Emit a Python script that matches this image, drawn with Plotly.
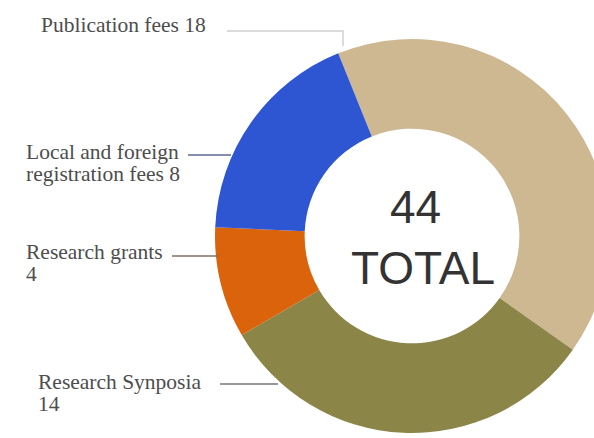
import plotly.graph_objects as go

# Data (clockwise from the top-left)
labels = ["Publication fees", "Research Symposia", "Research grants", "Local and foreign registration fees"]
values = [18, 14, 4, 8]
colors = ["#CDB892", "#8B8548", "#DA630B", "#2F56D2"]
total = sum(values)

# the donut runs off the right edge, so the figure is wider than the window
W, H = 620, 438


def px(x):
    return x / W


def py(y):
    return 1 - y / H


cx, cy, r = 412, 236, 197

fig = go.Figure()
fig.add_trace(go.Pie(
    labels=labels, values=values, hole=0.545, sort=False,
    direction="clockwise", rotation=-22,
    marker=dict(colors=colors, line=dict(width=0)),
    textinfo="none", hoverinfo="label+value", showlegend=False,
    domain=dict(x=[px(cx - r), px(cx + r)], y=[py(cy + r), py(cy - r)]),
))

serif = dict(family="Liberation Serif, serif", size=21.5, color="#4d4d4d")
sans = dict(family="Liberation Sans, Arial, sans-serif", size=46, color="#333333")

# outside labels: (lines, left x, center y of first line)
label_pos = [
    (["Publication fees 18"], 39, 25),
    (["Local and foreign", "registration fees 8"], 24, 152),
    (["Research grants", "4"], 24, 252),
    (["Research Synposia", "14"], 36, 382),
]
annotations = []
for rows, x, y in label_pos:
    for i, txt in enumerate(rows):
        annotations.append(dict(text=txt, x=px(x), y=py(y + 22 * i), xref="paper", yref="paper",
                                xanchor="left", yanchor="middle", align="left",
                                showarrow=False, font=serif))
annotations.append(dict(text=str(total), x=px(415), y=py(207), xref="paper", yref="paper",
                        xanchor="center", yanchor="middle", showarrow=False, font=sans))
annotations.append(dict(text="TOTAL", x=px(423), y=py(268), xref="paper", yref="paper",
                        xanchor="center", yanchor="middle", showarrow=False, font=sans))

# leader lines
lines = [
    ([(227, 31), (343, 31), (343, 46)], "#cfcfcf"),
    ([(188, 155), (231, 155)], "#5d6a90"),
    ([(172, 256), (218, 256)], "#807060"),
    ([(220, 384), (278, 384)], "#767676"),
]
shapes = []
for pts, col in lines:
    path = "M " + " L ".join(f"{px(a):.4f},{py(b):.4f}" for a, b in pts)
    shapes.append(dict(type="path", path=path, xref="paper", yref="paper",
                       line=dict(color=col, width=1.5)))

fig.update_layout(
    width=W, height=H, margin=dict(l=0, r=0, t=0, b=0),
    paper_bgcolor="white", plot_bgcolor="white",
    annotations=annotations, shapes=shapes,
)
# no page margin and no scrollbars: the overflow on the right is simply cut off
fig.write_html("out.html", config={"displayModeBar": False}, post_script=(
    "document.documentElement.style.overflow='hidden';"
    "document.body.style.overflow='hidden';"
    "document.body.style.margin='0';"
))
